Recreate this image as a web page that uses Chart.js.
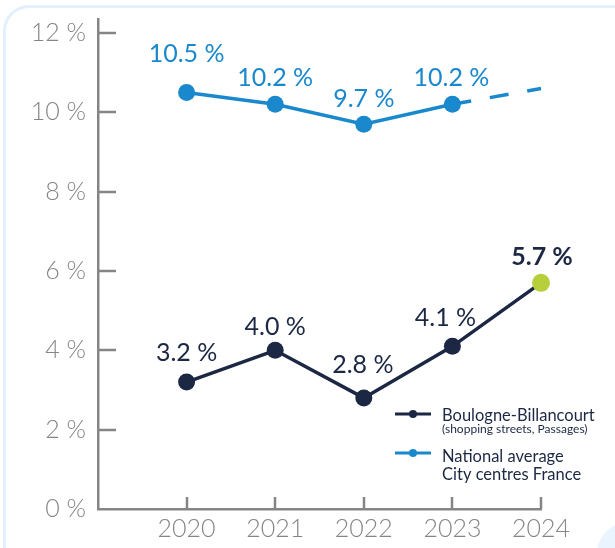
<!DOCTYPE html>
<html>
<head>
<meta charset="utf-8">
<script src="https://cdn.jsdelivr.net/npm/chart.js@4.4.1/dist/chart.umd.min.js"></script>
<style>
  html, body { margin: 0; padding: 0; background: #ffffff; }
  body { width: 615px; height: 548px; position: relative; overflow: hidden; }
  #card { position: absolute; left: 3px; top: 5px; width: 700px; height: 700px;
          border: 3px solid #e2f1fd; border-radius: 26px; box-sizing: border-box; }
  #corner { position: absolute; left: 597px; top: 522px; width: 100px; height: 100px;
            background: #e9f4fe; border-top-left-radius: 32px; }
  #c { position: absolute; left: 0; top: 0; }
</style>
</head>
<body>
<div id="card"></div>
<div id="corner"></div>
<canvas id="c" width="615" height="548"></canvas>
<script>
// ---- data ----
const years = [2020, 2021, 2022, 2023, 2024];
const boulogneValues = [3.2, 4.0, 2.8, 4.1, 5.7];
const nationalValues = [10.5, 10.2, 9.7, 10.2, 10.6]; // 2024 = dashed projection, no label
const nationalLabelled = [true, true, true, true, false];
const yTicks = [0, 2, 4, 6, 8, 10, 12];
const legendLabels = [
  ['Boulogne-Billancourt', '(shopping streets, Passages)'],
  ['National average', 'City centres France']
];

// ---- styles ----
const NAVY = '#1b2743';
const BLUE = '#1a88cc';
const GREEN = '#b8cf3c';
const GRAY = '#858585';
const FONT = 'Lato, "Open Sans", sans-serif';

const labelOffsets = {
  // [dx, dy] from point centre to text baseline centre
  0: [[0, 21], [0, 15], [-1, 25], [-7, 20], [1, 18]],
  1: [[0, 30], [0, 18], [0, 17], [-1, 18], [0, 0]]
};

const pointLabels = {
  id: 'pointLabels',
  afterDatasetsDraw(chart) {
    const ctx = chart.ctx;
    ctx.save();
    ctx.textAlign = 'center';
    ctx.textBaseline = 'alphabetic';
    chart.data.datasets.forEach((ds, di) => {
      const meta = chart.getDatasetMeta(di);
      meta.data.forEach((pt, i) => {
        if (di === 1 && !nationalLabelled[i]) return;
        const last = di === 0 && i === ds.data.length - 1;
        const off = labelOffsets[di][i];
        ctx.fillStyle = di === 0 ? NAVY : BLUE;
        ctx.font = (last ? 'bold ' : '') + '25px ' + FONT;
        ctx.fillText(ds.data[i].y.toFixed(1) + ' %', pt.x + off[0], pt.y - off[1]);
      });
    });
    ctx.restore();
  }
};

const axisTicks = {
  id: 'axisTicks',
  afterDraw(chart) {
    const ctx = chart.ctx;
    const xs = chart.scales.x, ys = chart.scales.y;
    const a = chart.chartArea;
    ctx.save();
    ctx.strokeStyle = GRAY;
    ctx.lineWidth = 2.5;
    yTicks.forEach(v => {
      const y = Math.round(ys.getPixelForValue(v));
      if (v === 0) return;
      ctx.beginPath(); ctx.moveTo(a.left, y); ctx.lineTo(a.left + 18, y); ctx.stroke();
    });
    years.forEach(v => {
      const x = Math.round(xs.getPixelForValue(v));
      ctx.beginPath(); ctx.moveTo(x, a.bottom); ctx.lineTo(x, a.bottom - 12); ctx.stroke();
    });
    ctx.restore();
  }
};

const customLegend = {
  id: 'customLegend',
  afterDraw(chart) {
    const ctx = chart.ctx;
    const colors = [NAVY, BLUE];
    const rows = [414, 453];
    ctx.save();
    legendLabels.forEach((lines, i) => {
      const y = rows[i];
      ctx.strokeStyle = colors[i];
      ctx.lineWidth = 3;
      ctx.beginPath(); ctx.moveTo(395, y); ctx.lineTo(431, y); ctx.stroke();
      ctx.fillStyle = colors[i];
      ctx.beginPath(); ctx.arc(413, y, 4, 0, Math.PI * 2); ctx.fill();
      ctx.fillStyle = NAVY;
      ctx.textAlign = 'left';
      ctx.textBaseline = 'alphabetic';
      ctx.font = '16.5px ' + FONT;
      if (i === 0) {
        ctx.fillText(lines[0], 442, y + 6.5);
        ctx.font = '12px ' + FONT;
        ctx.fillText(lines[1], 442, y + 19);
      } else {
        ctx.fillText(lines[0], 442, y + 8.5);
        ctx.fillText(lines[1], 442, y + 26.5);
      }
    });
    ctx.restore();
  }
};

const lastIdx = boulogneValues.length - 1;

new Chart(document.getElementById('c'), {
  type: 'line',
  data: {
    datasets: [
      {
        label: legendLabels[0][0],
        data: years.map((y, i) => ({ x: y, y: boulogneValues[i] })),
        borderColor: NAVY,
        borderWidth: 3.5,
        pointRadius: ctx => ctx.dataIndex === lastIdx ? 9 : 8.5,
        pointBackgroundColor: ctx => ctx.dataIndex === lastIdx ? GREEN : NAVY,
        pointBorderWidth: 0,
        pointHoverRadius: 9,
        tension: 0,
        clip: false
      },
      {
        label: legendLabels[1][0],
        data: years.map((y, i) => ({ x: y, y: nationalValues[i] })),
        borderColor: BLUE,
        borderWidth: 3.5,
        pointRadius: ctx => nationalLabelled[ctx.dataIndex] ? 8.5 : 0,
        pointBackgroundColor: BLUE,
        pointBorderWidth: 0,
        tension: 0,
        clip: false,
        segment: {
          borderDash: ctx => nationalLabelled[ctx.p1DataIndex] ? undefined : [19, 19]
        }
      }
    ]
  },
  options: {
    responsive: false,
    animation: false,
    devicePixelRatio: 1,
    layout: { padding: { left: 0, top: 19, right: 74, bottom: 0 } },
    plugins: { legend: { display: false }, tooltip: { enabled: false } },
    scales: {
      x: {
        type: 'linear',
        min: 2019,
        max: 2024,
        afterBuildTicks: s => { s.ticks = years.map(v => ({ value: v })); },
        afterFit: s => { s.height = 39; s.paddingLeft = 0; s.paddingRight = 0; },
        grid: { display: false, drawTicks: false },
        border: { display: true, color: GRAY, width: 2.5 },
        ticks: {
          color: GRAY,
          font: { family: FONT, size: 25, weight: '300' },
          padding: 5,
          maxRotation: 0,
          autoSkip: false,
          callback: v => String(v)
        }
      },
      y: {
        min: 0,
        max: 12.35,
        afterBuildTicks: s => { s.ticks = yTicks.map(v => ({ value: v })); },
        afterFit: s => { s.width = 98; s.paddingTop = 0; s.paddingBottom = 0; },
        grid: { display: false, drawTicks: false },
        border: { display: true, color: GRAY, width: 2.5 },
        ticks: {
          color: GRAY,
          font: { family: FONT, size: 25, weight: '300' },
          padding: 12,
          callback: v => v + ' %'
        }
      }
    }
  },
  plugins: [pointLabels, axisTicks, customLegend]
});
</script>
</body>
</html>
